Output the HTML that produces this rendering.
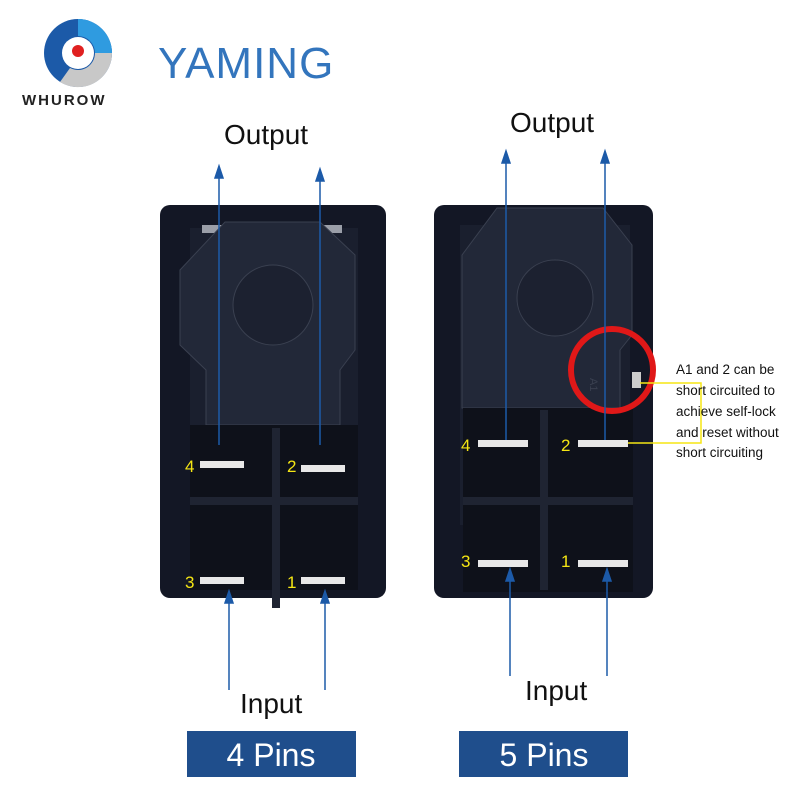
<!DOCTYPE html>
<html><head><meta charset="utf-8"><style>body{margin:0;background:#fff}svg{display:block}</style></head><body>
<svg width="800" height="800" viewBox="0 0 800 800" xmlns="http://www.w3.org/2000/svg" font-family="Liberation Sans, sans-serif">
<rect width="800" height="800" fill="#fff"/>
<circle cx="78" cy="53" r="34" fill="#1c5aa8"/>
<path d="M78 19 A34 34 0 0 1 112 53 L95 53 A17 17 0 0 0 78 36 Z" fill="#2f9be0"/>
<path d="M112 53 A34 34 0 0 1 60 82 L70 68 A17 17 0 0 0 95 53 Z" fill="#c8c8c8"/>
<circle cx="78" cy="53" r="16" fill="#fff"/>
<circle cx="78" cy="51" r="6" fill="#e02020"/>
<text x="22" y="105" font-size="15" font-weight="bold" fill="#222" letter-spacing="2">WHUROW</text>
<text x="158" y="78" font-size="44" fill="#3375bd" letter-spacing="1">YAMING</text>
<rect x="160" y="205" width="226" height="393" rx="10" fill="#131725"/>
<rect x="190" y="228" width="168" height="300" fill="#1a1f2e"/>
<rect x="202" y="225" width="140" height="8" fill="#9a9ea8"/>
<polygon points="225,222 320,222 355,255 355,350 340,370 340,425 206,425 206,370 180,345 180,270" fill="#222838" stroke="#3a4050"/>
<circle cx="273" cy="305" r="40" fill="#1c2130" stroke="#3a4050"/>
<rect x="190" y="425" width="168" height="165" fill="#0e111a"/>
<rect x="272" y="428" width="8" height="180" fill="#1f2432"/>
<rect x="190" y="497" width="168" height="8" fill="#1f2432"/>
<rect x="200" y="461" width="44" height="7" fill="#e8e8e8"/>
<rect x="301" y="465" width="44" height="7" fill="#e8e8e8"/>
<rect x="200" y="577" width="44" height="7" fill="#e8e8e8"/>
<rect x="301" y="577" width="44" height="7" fill="#e8e8e8"/>
<g fill="#f5e614" font-size="17"><text x="185" y="472">4</text><text x="287" y="472">2</text><text x="185" y="588">3</text><text x="287" y="588">1</text></g>
<rect x="434" y="205" width="219" height="393" rx="10" fill="#131725"/>
<rect x="460" y="225" width="170" height="300" fill="#1a1f2e"/>
<polygon points="497,208 603,208 632,245 632,335 620,350 620,408 462,408 462,345 462,255" fill="#222838" stroke="#3a4050"/>
<circle cx="555" cy="298" r="38" fill="#1c2130" stroke="#3a4050"/>
<text x="0" y="0" font-size="11" fill="#3a4050" transform="translate(590,378) rotate(90)">A1</text>
<rect x="463" y="408" width="170" height="184" fill="#0e111a"/>
<rect x="540" y="410" width="8" height="180" fill="#1f2432"/>
<rect x="463" y="497" width="170" height="8" fill="#1f2432"/>
<rect x="478" y="440" width="50" height="7" fill="#e8e8e8"/>
<rect x="578" y="440" width="50" height="7" fill="#e8e8e8"/>
<rect x="478" y="560" width="50" height="7" fill="#e8e8e8"/>
<rect x="578" y="560" width="50" height="7" fill="#e8e8e8"/>
<g fill="#f5e614" font-size="17"><text x="461" y="451">4</text><text x="561" y="451">2</text><text x="461" y="567">3</text><text x="561" y="567">1</text></g>
<rect x="632" y="372" width="9" height="16" fill="#ccc"/>
<circle cx="612" cy="370" r="41" fill="none" stroke="#e01818" stroke-width="6"/>
<polyline points="640,383 701,383 701,443 628,443" fill="none" stroke="#f5e614" stroke-width="1.5"/>
<g font-size="13.5" fill="#111"><text x="676" y="374">A1 and 2 can be</text><text x="676" y="395">short circuited to</text><text x="676" y="416">achieve self-lock</text><text x="676" y="437">and reset without</text><text x="676" y="457">short circuiting</text></g>
<g stroke="#1c5aa8" stroke-width="1.5" fill="#1c5aa8">
<line x1="219" y1="445" x2="219" y2="175"/><polygon points="215,178 219,166 223,178"/>
<line x1="320" y1="445" x2="320" y2="178"/><polygon points="316,181 320,169 324,181"/>
<line x1="229" y1="690" x2="229" y2="600"/><polygon points="225,603 229,591 233,603"/>
<line x1="325" y1="690" x2="325" y2="600"/><polygon points="321,603 325,591 329,603"/>
<line x1="506" y1="440" x2="506" y2="160"/><polygon points="502,163 506,151 510,163"/>
<line x1="605" y1="440" x2="605" y2="160"/><polygon points="601,163 605,151 609,163"/>
<line x1="510" y1="676" x2="510" y2="578"/><polygon points="506,581 510,569 514,581"/>
<line x1="607" y1="676" x2="607" y2="578"/><polygon points="603,581 607,569 611,581"/>
</g>
<g font-size="28" fill="#111"><text x="224" y="144">Output</text><text x="510" y="132">Output</text><text x="240" y="713">Input</text><text x="525" y="700">Input</text></g>
<rect x="187" y="731" width="169" height="46" fill="#1f4e8c"/>
<rect x="459" y="731" width="169" height="46" fill="#1f4e8c"/>
<g font-size="32" fill="#fff" text-anchor="middle"><text x="271" y="766">4 Pins</text><text x="544" y="766">5 Pins</text></g>
</svg>
</body></html>
